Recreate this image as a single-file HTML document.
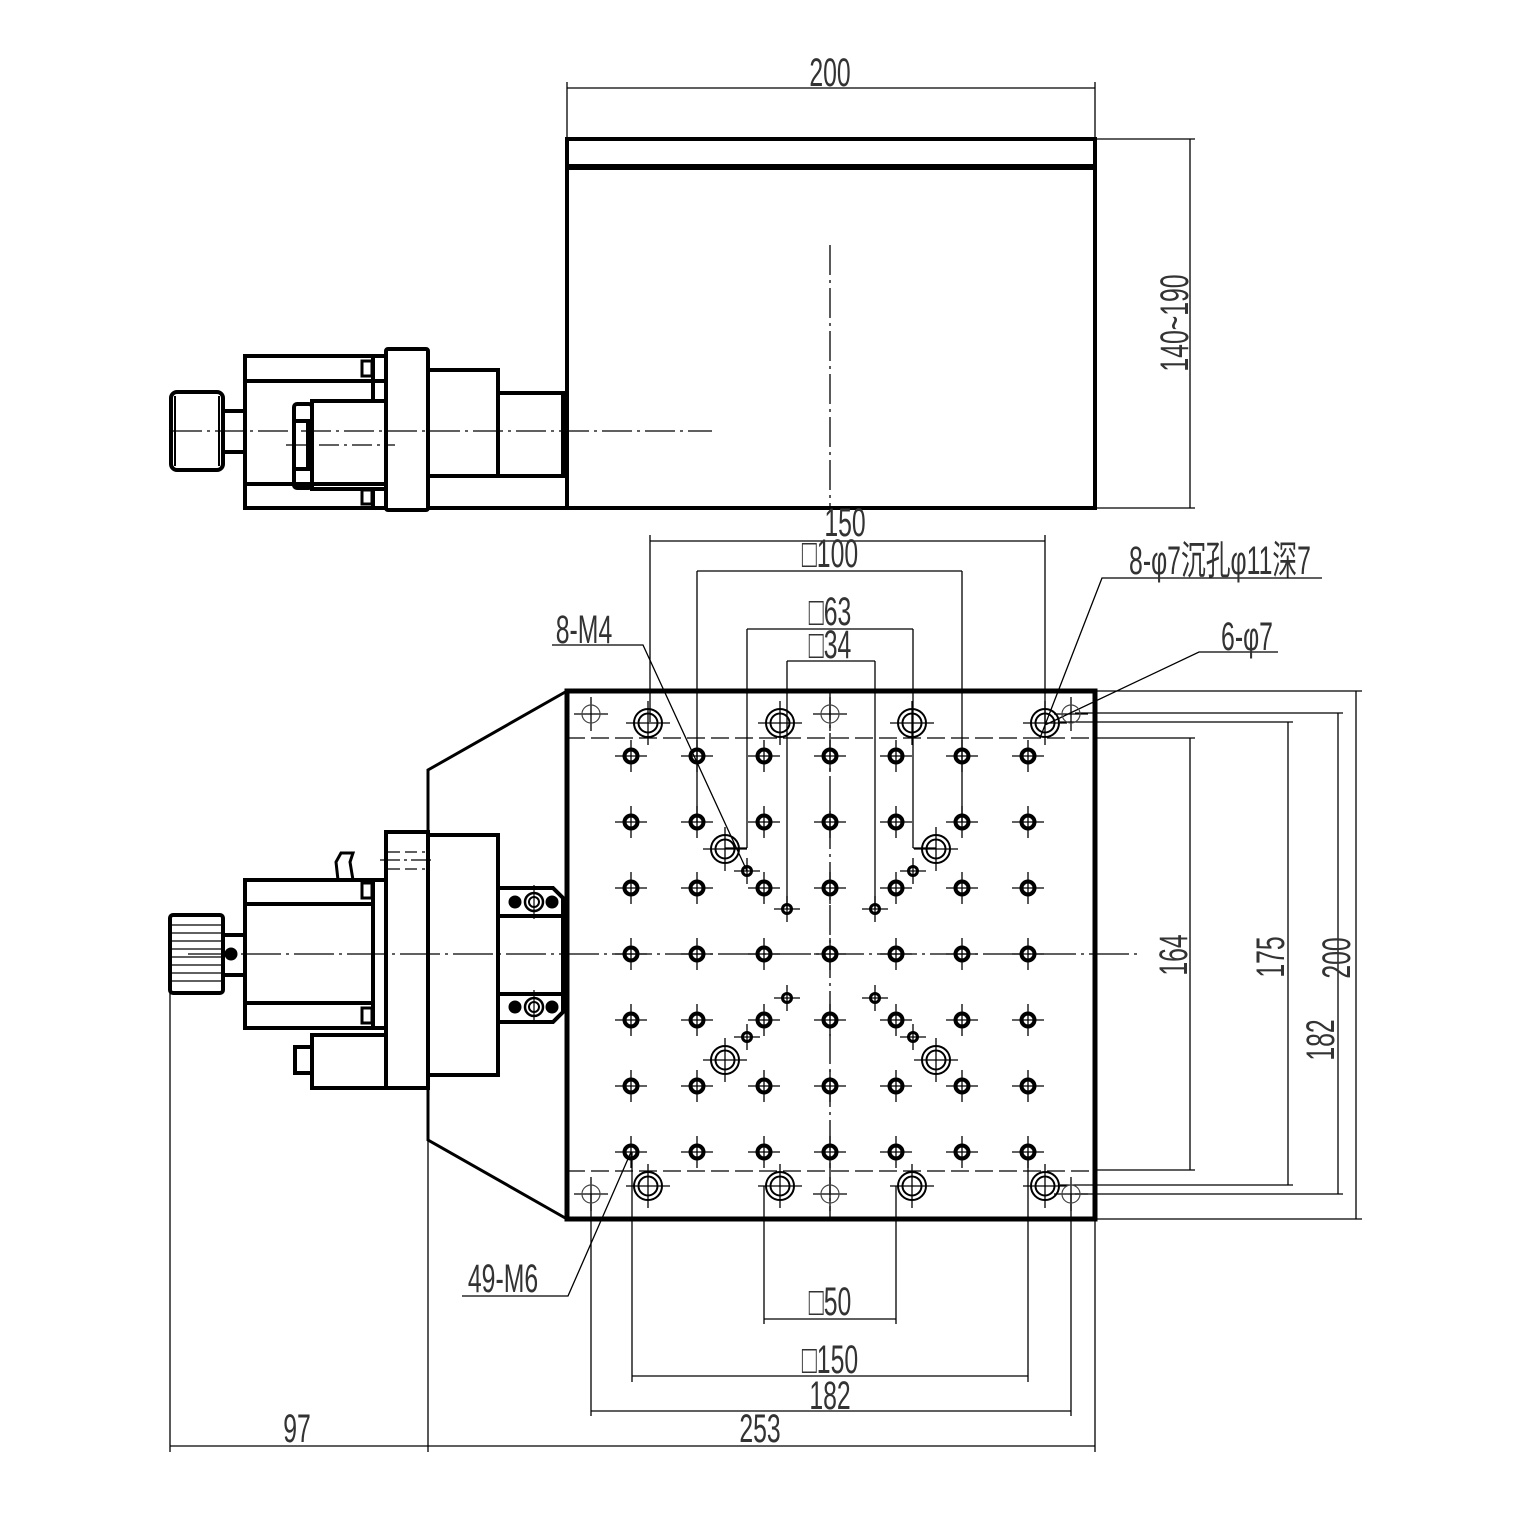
<!DOCTYPE html>
<html><head><meta charset="utf-8"><style>html,body{margin:0;padding:0;background:#fff}svg{display:block}
.t{font-family:"Liberation Sans Narrow","Liberation Sans","Noto Sans CJK SC",sans-serif;font-size:40px;fill:#333;text-anchor:middle}
</style></head><body>
<svg width="1532" height="1525" viewBox="0 0 1532 1525" xmlns="http://www.w3.org/2000/svg">
<defs>
<symbol id="m6" overflow="visible"><line x1="-16" y1="0" x2="16" y2="0" stroke="#000" stroke-width="1.3"/><line x1="0" y1="-16" x2="0" y2="16" stroke="#000" stroke-width="1.3"/><circle r="6.5" fill="none" stroke="#000" stroke-width="4"/></symbol>
<symbol id="m4" overflow="visible"><line x1="-13" y1="0" x2="13" y2="0" stroke="#000" stroke-width="1.3"/><line x1="0" y1="-13" x2="0" y2="13" stroke="#000" stroke-width="1.3"/><circle r="4.5" fill="none" stroke="#000" stroke-width="3"/></symbol>
<symbol id="cb" overflow="visible"><line x1="-22" y1="0" x2="22" y2="0" stroke="#000" stroke-width="1.3"/><line x1="0" y1="-22" x2="0" y2="22" stroke="#000" stroke-width="1.3"/><circle r="14" fill="none" stroke="#000" stroke-width="2"/><circle r="9.5" fill="none" stroke="#000" stroke-width="2"/></symbol>
<symbol id="sh" overflow="visible"><line x1="-17" y1="0" x2="17" y2="0" stroke="#000" stroke-width="1.3"/><line x1="0" y1="-17" x2="0" y2="17" stroke="#000" stroke-width="1.3"/><circle r="9" fill="none" stroke="#444" stroke-width="1.2"/></symbol>
</defs>
<g stroke="#000" fill="none">
<rect x="567" y="139" width="528" height="369" stroke-width="4"/>
<line x1="567" y1="167" x2="1095" y2="167" stroke-width="6"/>
<line x1="830" y1="245" x2="830" y2="506" stroke-width="1.3" stroke-dasharray="30 5 3 5"/>
<line x1="428" y1="508" x2="567" y2="508" stroke-width="4"/>
<rect x="171" y="392" width="52" height="78" rx="6" stroke-width="4"/>
<line x1="175" y1="396" x2="175" y2="466" stroke-width="2"/><line x1="219" y1="396" x2="219" y2="466" stroke-width="2"/>
<rect x="223" y="411" width="22" height="41" stroke-width="4"/>
<rect x="245" y="356" width="141" height="152" stroke-width="4"/>
<line x1="245" y1="381" x2="386" y2="381" stroke-width="4"/><line x1="245" y1="484" x2="386" y2="484" stroke-width="4"/>
<line x1="373" y1="356" x2="373" y2="401" stroke-width="4"/><line x1="373" y1="488" x2="373" y2="508" stroke-width="4"/>
<rect x="362" y="361" width="10" height="15" stroke-width="3"/><rect x="362" y="490" width="10" height="14" stroke-width="3"/>
<rect x="312" y="401" width="74" height="88" stroke-width="4"/>
<rect x="294" y="404" width="18" height="84" rx="3" stroke-width="4"/>
<rect x="294" y="421" width="14" height="48" stroke-width="4"/>
<rect x="386" y="349" width="42" height="161" rx="2" stroke-width="4"/>
<rect x="428" y="370" width="70" height="106" stroke-width="4"/>
<rect x="498" y="393" width="65" height="83" stroke-width="4"/>
<line x1="563" y1="418" x2="567" y2="418" stroke-width="4"/><line x1="563" y1="446" x2="567" y2="446" stroke-width="4"/>
<line x1="172" y1="431" x2="712" y2="431" stroke-width="1.3" stroke-dasharray="30 5 3 5"/>
<line x1="286" y1="445" x2="395" y2="445" stroke-width="1.3" stroke-dasharray="20 5 3 5"/>
<line x1="567" y1="88" x2="1095" y2="88" stroke-width="1.3"/>
<line x1="567" y1="82" x2="567" y2="137" stroke-width="1.3"/><line x1="1095" y1="82" x2="1095" y2="137" stroke-width="1.3"/>
<line x1="1097" y1="139" x2="1195" y2="139" stroke-width="1.3"/><line x1="1097" y1="508" x2="1195" y2="508" stroke-width="1.3"/>
<line x1="1190" y1="139" x2="1190" y2="508" stroke-width="1.3"/>

<rect x="567" y="691" width="528" height="528" stroke-width="5"/>
<polyline points="567,691 428,770 428,1140 567,1219" stroke-width="3"/>
<line x1="567" y1="738" x2="1095" y2="738" stroke-width="1.3" stroke-dasharray="18 6"/>
<line x1="567" y1="1171" x2="1095" y2="1171" stroke-width="1.3" stroke-dasharray="18 6"/>
<line x1="830" y1="690" x2="830" y2="1220" stroke-width="1.3" stroke-dasharray="30 5 3 5"/>
<line x1="188" y1="954" x2="1140" y2="954" stroke-width="1.3" stroke-dasharray="40 5 3 5"/>
<rect x="170" y="915" width="53" height="78" rx="3" stroke-width="4"/>
<g stroke-width="1.2"><line x1="172" y1="925" x2="221" y2="925"/><line x1="172" y1="933" x2="221" y2="933"/><line x1="172" y1="941" x2="221" y2="941"/><line x1="172" y1="949" x2="221" y2="949"/><line x1="172" y1="957" x2="221" y2="957"/><line x1="172" y1="965" x2="221" y2="965"/><line x1="172" y1="973" x2="221" y2="973"/><line x1="172" y1="981" x2="221" y2="981"/></g>
<rect x="223" y="935" width="22" height="40" stroke-width="4"/>
<circle cx="231" cy="954" r="6" fill="#000"/>
<rect x="245" y="880" width="141" height="148" stroke-width="4"/>
<line x1="245" y1="904" x2="373" y2="904" stroke-width="4"/><line x1="245" y1="1003" x2="373" y2="1003" stroke-width="4"/>
<line x1="373" y1="880" x2="373" y2="1028" stroke-width="4"/>
<rect x="362" y="883" width="10" height="15" stroke-width="3"/><rect x="362" y="1008" width="10" height="15" stroke-width="3"/>
<path d="M338,880 L336,862 L341,853 L353,853 L350,862 L353,880" stroke-width="3"/>
<rect x="312" y="1035" width="74" height="53" stroke-width="4"/>
<rect x="295" y="1047" width="17" height="26" stroke-width="4"/>
<rect x="386" y="832" width="42" height="256" stroke-width="4"/>
<rect x="428" y="835" width="70" height="240" stroke-width="4"/>
<line x1="388" y1="852" x2="425" y2="852" stroke-width="1.3" stroke-dasharray="12 5"/><line x1="388" y1="869" x2="425" y2="869" stroke-width="1.3" stroke-dasharray="12 5"/>
<line x1="380" y1="860" x2="435" y2="860" stroke-width="1.3" stroke-dasharray="20 4 3 4"/>
<path d="M498,888 L553,888 L563,898 L563,1012 L553,1022 L498,1022" stroke-width="4"/>
<line x1="498" y1="916" x2="563" y2="916" stroke-width="4"/><line x1="498" y1="994" x2="563" y2="994" stroke-width="4"/>
<line x1="563" y1="940" x2="567" y2="940" stroke-width="4"/><line x1="563" y1="968" x2="567" y2="968" stroke-width="4"/>
<circle cx="515" cy="902" r="6" fill="#000"/><circle cx="552" cy="902" r="6" fill="#000"/>
<circle cx="534" cy="902" r="9" stroke-width="2.5"/><circle cx="534" cy="902" r="5" stroke-width="2"/>
<circle cx="515" cy="1007" r="6" fill="#000"/><circle cx="552" cy="1007" r="6" fill="#000"/>
<circle cx="534" cy="1007" r="9" stroke-width="2.5"/><circle cx="534" cy="1007" r="5" stroke-width="2"/>
<line x1="534" y1="885" x2="534" y2="919" stroke-width="1.2"/><line x1="534" y1="990" x2="534" y2="1024" stroke-width="1.2"/>

<g stroke-width="1.3">
<line x1="650" y1="541" x2="1045" y2="541"/><line x1="650" y1="535" x2="650" y2="722"/><line x1="1045" y1="535" x2="1045" y2="722"/>
<line x1="697" y1="571" x2="962" y2="571"/><line x1="697" y1="571" x2="697" y2="822"/><line x1="962" y1="571" x2="962" y2="822"/>
<line x1="747" y1="629" x2="913" y2="629"/><line x1="747" y1="629" x2="747" y2="848"/><line x1="913" y1="629" x2="913" y2="848"/>
<line x1="787" y1="661" x2="875" y2="661"/><line x1="787" y1="661" x2="787" y2="909"/><line x1="875" y1="661" x2="875" y2="909"/>
<line x1="725" y1="848" x2="747" y2="848"/><line x1="913" y1="848" x2="936" y2="848"/>
<line x1="1097" y1="691" x2="1362" y2="691"/><line x1="1097" y1="1219" x2="1362" y2="1219"/>
<line x1="1075" y1="713" x2="1343" y2="713"/><line x1="1075" y1="1194" x2="1343" y2="1194"/>
<line x1="1060" y1="722" x2="1293" y2="722"/><line x1="1060" y1="1185" x2="1293" y2="1185"/>
<line x1="1097" y1="738" x2="1195" y2="738"/><line x1="1097" y1="1170" x2="1195" y2="1170"/>
<line x1="1190" y1="738" x2="1190" y2="1170"/><line x1="1288" y1="722" x2="1288" y2="1185"/>
<line x1="1338" y1="713" x2="1338" y2="1194"/><line x1="1356" y1="691" x2="1356" y2="1219"/>
<line x1="764" y1="1186" x2="764" y2="1324"/><line x1="896" y1="1186" x2="896" y2="1324"/><line x1="764" y1="1319" x2="896" y2="1319"/>
<line x1="632" y1="1152" x2="632" y2="1382"/><line x1="1028" y1="1152" x2="1028" y2="1382"/><line x1="632" y1="1376" x2="1028" y2="1376"/>
<line x1="591" y1="1194" x2="591" y2="1416"/><line x1="1071" y1="1194" x2="1071" y2="1416"/><line x1="591" y1="1411" x2="1071" y2="1411"/>
<line x1="170" y1="993" x2="170" y2="1452"/><line x1="428" y1="1140" x2="428" y2="1452"/><line x1="1095" y1="1219" x2="1095" y2="1452"/>
<line x1="170" y1="1446" x2="1095" y2="1446"/>
<polyline points="552,645 643,645 747,871"/>
<polyline points="1322,578 1102,578 1040,738"/>
<polyline points="1278,652 1199,652 1045,725"/>
<polyline points="462,1296 568,1296 631,1152"/>
</g>
</g>
<g>
<use href="#m6" x="631" y="756"/><use href="#m6" x="697" y="756"/><use href="#m6" x="764" y="756"/><use href="#m6" x="830" y="756"/><use href="#m6" x="896" y="756"/><use href="#m6" x="962" y="756"/><use href="#m6" x="1028" y="756"/>
<use href="#m6" x="631" y="822"/><use href="#m6" x="697" y="822"/><use href="#m6" x="764" y="822"/><use href="#m6" x="830" y="822"/><use href="#m6" x="896" y="822"/><use href="#m6" x="962" y="822"/><use href="#m6" x="1028" y="822"/>
<use href="#m6" x="631" y="888"/><use href="#m6" x="697" y="888"/><use href="#m6" x="764" y="888"/><use href="#m6" x="830" y="888"/><use href="#m6" x="896" y="888"/><use href="#m6" x="962" y="888"/><use href="#m6" x="1028" y="888"/>
<use href="#m6" x="631" y="954"/><use href="#m6" x="697" y="954"/><use href="#m6" x="764" y="954"/><use href="#m6" x="830" y="954"/><use href="#m6" x="896" y="954"/><use href="#m6" x="962" y="954"/><use href="#m6" x="1028" y="954"/>
<use href="#m6" x="631" y="1020"/><use href="#m6" x="697" y="1020"/><use href="#m6" x="764" y="1020"/><use href="#m6" x="830" y="1020"/><use href="#m6" x="896" y="1020"/><use href="#m6" x="962" y="1020"/><use href="#m6" x="1028" y="1020"/>
<use href="#m6" x="631" y="1086"/><use href="#m6" x="697" y="1086"/><use href="#m6" x="764" y="1086"/><use href="#m6" x="830" y="1086"/><use href="#m6" x="896" y="1086"/><use href="#m6" x="962" y="1086"/><use href="#m6" x="1028" y="1086"/>
<use href="#m6" x="631" y="1152"/><use href="#m6" x="697" y="1152"/><use href="#m6" x="764" y="1152"/><use href="#m6" x="830" y="1152"/><use href="#m6" x="896" y="1152"/><use href="#m6" x="962" y="1152"/><use href="#m6" x="1028" y="1152"/>
<use href="#cb" x="648" y="723"/><use href="#cb" x="780" y="723"/><use href="#cb" x="912" y="723"/><use href="#cb" x="1045" y="723"/>
<use href="#cb" x="648" y="1186"/><use href="#cb" x="780" y="1186"/><use href="#cb" x="912" y="1186"/><use href="#cb" x="1045" y="1186"/>
<use href="#cb" x="725" y="849"/><use href="#cb" x="936" y="849"/><use href="#cb" x="725" y="1060"/><use href="#cb" x="936" y="1060"/>
<use href="#sh" x="591" y="714"/><use href="#sh" x="830" y="714"/><use href="#sh" x="1071" y="714"/>
<use href="#sh" x="591" y="1194"/><use href="#sh" x="830" y="1194"/><use href="#sh" x="1071" y="1194"/>
<use href="#m4" x="747" y="871"/><use href="#m4" x="787" y="909"/><use href="#m4" x="875" y="909"/><use href="#m4" x="913" y="871"/>
<use href="#m4" x="787" y="998"/><use href="#m4" x="875" y="998"/><use href="#m4" x="747" y="1037"/><use href="#m4" x="913" y="1037"/>
</g>
<g class="t">
<g transform="translate(830,86) scale(0.62,1)"><text>200</text></g>
<g transform="translate(1188,323) rotate(-90) scale(0.62,1)"><text>140~190</text></g>
<g transform="translate(845,536) scale(0.62,1)"><text>150</text></g>
<g transform="translate(830,567) scale(0.62,1)"><text>□100</text></g>
<g transform="translate(830,625) scale(0.62,1)"><text>□63</text></g>
<g transform="translate(830,658) scale(0.62,1)"><text>□34</text></g>
<g transform="translate(584,643) scale(0.62,1)"><text>8-M4</text></g>
<g transform="translate(1220,574) scale(0.62,1)"><text>8-φ7沉孔φ11深7</text></g>
<g transform="translate(1247,650) scale(0.62,1)"><text>6-φ7</text></g>
<g transform="translate(503,1292) scale(0.62,1)"><text>49-M6</text></g>
<g transform="translate(1187,955) rotate(-90) scale(0.62,1)"><text>164</text></g>
<g transform="translate(1284,957) rotate(-90) scale(0.62,1)"><text>175</text></g>
<g transform="translate(1350,958) rotate(-90) scale(0.62,1)"><text>200</text></g>
<g transform="translate(1334,1040) rotate(-90) scale(0.62,1)"><text>182</text></g>
<g transform="translate(830,1315) scale(0.62,1)"><text>□50</text></g>
<g transform="translate(830,1373) scale(0.62,1)"><text>□150</text></g>
<g transform="translate(830,1409) scale(0.62,1)"><text>182</text></g>
<g transform="translate(760,1442) scale(0.62,1)"><text>253</text></g>
<g transform="translate(297,1442) scale(0.62,1)"><text>97</text></g>
</g>
</svg>
</body></html>
